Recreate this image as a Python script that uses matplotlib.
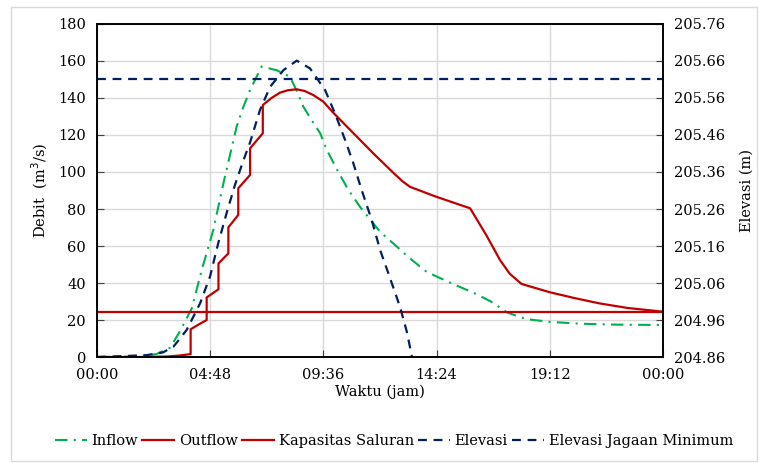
import matplotlib.pyplot as plt
from matplotlib.ticker import FuncFormatter, FixedLocator
from matplotlib.patches import Rectangle

plt.rcParams["font.family"] = "DejaVu Serif"
plt.rcParams["font.size"] = 10.5

# hidrograf (jam, m3/s)
inflow_t = [0, 1.5, 2.5, 3.1, 3.52, 4.02, 4.44, 4.93, 5.36, 5.92, 6.2, 6.49,
            6.98, 7.62, 8.18, 8.5, 8.75, 9.1, 9.46, 9.74, 10.23, 10.66, 11.15,
            12.0, 12.64, 13.27, 13.98, 15.0, 16.0, 16.7, 17.4, 18.2, 19.2,
            20.5, 22.0, 24.0]
inflow_q = [0, 0.3, 1.5, 5, 14, 26.3, 47, 68.6, 93.9, 124.5, 135, 144.3,
            157, 155, 151.5, 143, 135.3, 128, 121, 112, 100, 90.3, 81.2,
            67.7, 60.5, 53.3, 46, 40, 34.5, 30, 24, 20.5, 19,
            18, 17.5, 17.3]

outflow_t = [0, 2.0, 3.0, 3.5, 3.97, 3.97, 4.3, 4.65, 4.65, 5.15, 5.15, 5.57,
             5.57, 5.99, 5.99, 6.49, 6.49, 7.03, 7.03, 7.4, 7.76, 8.1, 8.47,
             8.8, 9.17, 9.6, 10.02, 10.87, 11.72, 12.57, 12.95, 13.27, 14.3,
             15.4, 15.82, 16.5, 17.09, 17.5, 18.0, 19.2, 20.2, 21.3, 22.5, 24.0]
outflow_q = [0, 0, 0.3, 0.8, 1.6, 15, 17.5, 20, 32.2, 36.6, 50.6, 56,
             70.1, 76.8, 91.2, 98.4, 112.8, 120.9, 136.2, 140, 142.9, 144.2, 144.7,
             143.8, 141.6, 138, 132, 121, 110, 99.5, 95, 92, 87,
             82.2, 80.4, 66, 52.4, 45, 39.5, 35, 32, 29, 26.5, 24.5]

kapasitas = 24.5

# elevasi muka air (m)
elev_t = [0, 2.1, 2.8, 3.24, 3.52, 3.8, 4.37, 4.79, 5.14, 5.5, 5.85, 6.2,
          6.49, 6.91, 7.34, 7.9, 8.47, 9.03, 9.67, 10.09, 10.52, 10.87,
          11.22, 11.65, 12.0, 12.43, 12.85, 13.13, 13.35]
elev_h = [204.86, 204.865, 204.8725, 204.888, 204.91, 204.933, 205.005, 205.077,
          205.1675, 205.25, 205.325, 205.39, 205.44, 205.5275, 205.59, 205.635,
          205.661, 205.64, 205.5815, 205.5185, 205.4465, 205.3835, 205.3115,
          205.23, 205.15, 205.0725, 204.995, 204.93, 204.8625]
jagaan = 205.61

x_ticks = [0, 4.8, 9.6, 14.4, 19.2, 24]
q_ticks = list(range(0, 181, 20))
h_ticks = [204.86 + 0.1 * i for i in range(10)]

green = "#00B050"
red = "#C00000"
navy = "#002060"


def jam(x, pos=None):
    m = int(round(x * 60)) % (24 * 60)
    return f"{m // 60:02d}:{m % 60:02d}"


fig = plt.figure(figsize=(7.65, 4.63), dpi=100)
fig.patches.append(Rectangle((0.015, 0.005), 0.975, 0.98, transform=fig.transFigure,
                             fill=False, edgecolor="#D9D9D9", linewidth=1))
ax = fig.add_axes([0.1268, 0.2289, 0.7399, 0.7193])
ax2 = ax.twinx()

l1, = ax.plot(inflow_t, inflow_q, color=green, lw=1.5, ls=(0, (6, 3, 1, 3)), label="Inflow")
l2, = ax.plot(outflow_t, outflow_q, color=red, lw=1.6, label="Outflow")
l3 = ax.axhline(kapasitas, color=red, lw=1.6, label="Kapasitas Saluran")
l4, = ax2.plot(elev_t, elev_h, color=navy, lw=1.6, ls=(0, (4, 3)), label="Elevasi")
l5 = ax2.axhline(jagaan, color=navy, lw=1.6, ls=(0, (4, 3)), label="Elevasi Jagaan Minimum")

ax.set_xlim(0, 24)
ax.set_ylim(0, 180)
ax2.set_ylim(204.86, 205.76)
ax.xaxis.set_major_locator(FixedLocator(x_ticks))
ax.xaxis.set_major_formatter(FuncFormatter(jam))
ax.set_yticks(q_ticks)
ax2.yaxis.set_major_locator(FixedLocator(h_ticks))
ax2.yaxis.set_major_formatter(FuncFormatter(lambda v, p: f"{v:.2f}"))

ax.grid(True, color="#D9D9D9", lw=1)
ax.set_axisbelow(True)
for a in (ax, ax2):
    a.tick_params(direction="in", length=5, color="#404040", pad=8)
    for s in a.spines.values():
        s.set_color("black")
        s.set_linewidth(1.2)

ax.set_xlabel("Waktu (jam)", labelpad=2)
ax.set_ylabel("Debit  (m$^3$/s)", labelpad=6)
ax2.set_ylabel("Elevasi (m)", labelpad=10)

fig.legend(handles=[l1, l2, l3, l4, l5], loc="center", bbox_to_anchor=(0.515, 0.047),
           ncol=5, frameon=False, handlelength=2.2, handletextpad=0.3,
           columnspacing=0.3, fontsize=10.5)

fig.savefig("out.png", dpi=100)
